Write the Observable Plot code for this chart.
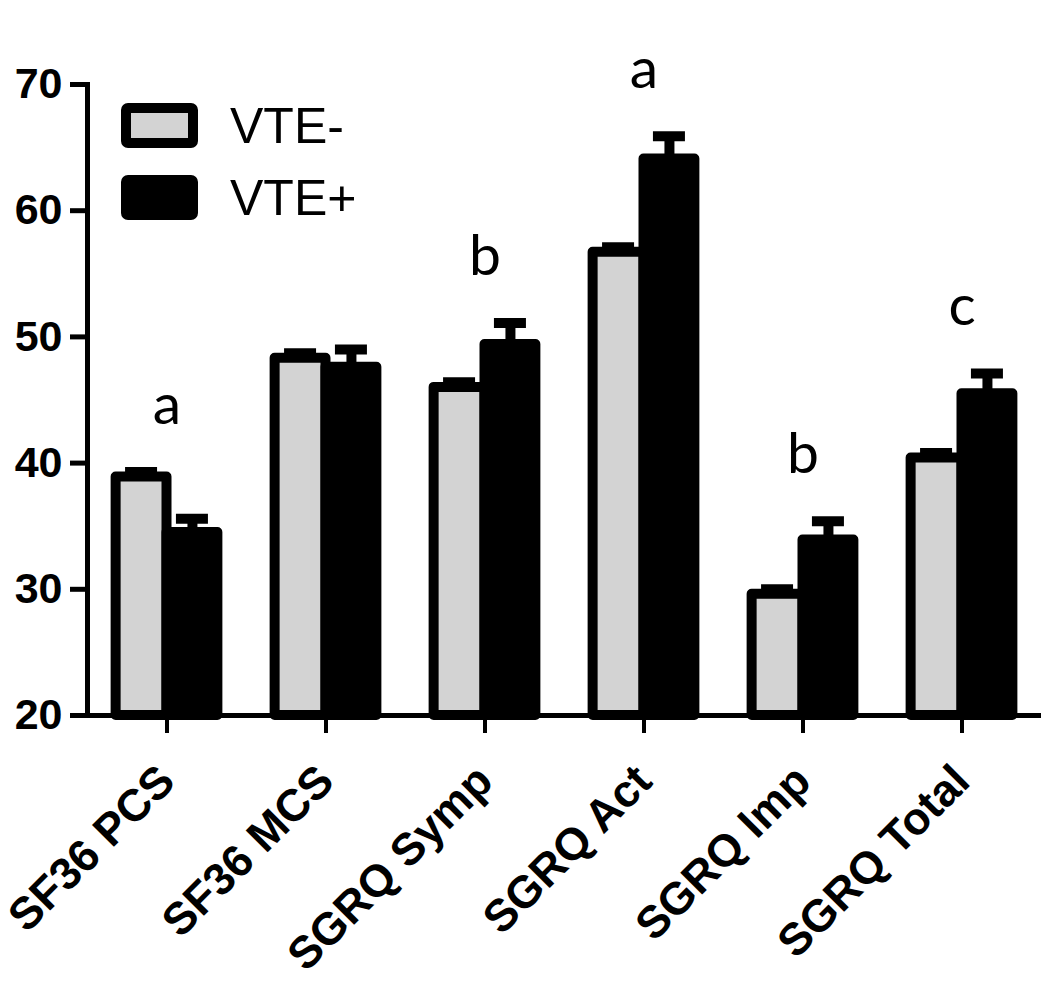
<!DOCTYPE html>
<html>
<head>
<meta charset="utf-8">
<script src="https://cdn.jsdelivr.net/npm/d3@7"></script>
<script src="https://cdn.jsdelivr.net/npm/@observablehq/plot@0.6"></script>
<style>
  html, body { margin: 0; padding: 0; background: #fff; }
  #wrap { position: relative; width: 1050px; height: 995px; }
  .legend { position: absolute; left: 121px; top: 103px; font-family: "Liberation Sans", Arial, sans-serif; font-size: 50px; color: #000; }
  .item { display: flex; align-items: center; height: 45px; margin-bottom: 27px; }
  .box { box-sizing: border-box; width: 77px; height: 45px; border: 10px solid #000; border-radius: 7px; margin-right: 32px; }
</style>
</head>
<body>
<div id="wrap"></div>
<script>
const categories = ["SF36 PCS", "SF36 MCS", "SGRQ Symp", "SGRQ Act", "SGRQ Imp", "SGRQ Total"];
const series = ["VTE-", "VTE+"];
const seriesColors = ["#d3d3d3", "#000000"];
const vteNeg = [38.9, 48.3, 46.0, 56.7, 29.6, 40.4];
const vteNegErr = [0.4, 0.4, 0.4, 0.4, 0.4, 0.4];
const vtePos = [34.5, 47.6, 49.4, 64.1, 33.9, 45.5];
const vtePosErr = [1.1, 1.4, 1.7, 1.8, 1.5, 1.6];
const sigLetters = ["a", "", "b", "a", "b", "c"];
const yTicks = [20, 30, 40, 50, 60, 70];

const W = 1050, H = 995;
const mL = 87, mR = 9, mT = 84, mB = 280;
const bw = (W - mL - mR) / categories.length;   // band width
const barW = bw * 0.32;
const capHalf = 16;

const negRows = categories.map((c, i) => ({cat: c, group: series[0], mean: vteNeg[i], err: vteNegErr[i]}));
const posRows = categories.map((c, i) => ({cat: c, group: series[1], mean: vtePos[i], err: vtePosErr[i]}));
const sigRows = categories.map((c, i) => ({
  cat: c, letter: sigLetters[i],
  top: Math.max(vteNeg[i] + vteNegErr[i], vtePos[i] + vtePosErr[i])
})).filter(d => d.letter);

const barStyle = {stroke: "#000", strokeWidth: 10, strokeLinejoin: "round"};

const chart = Plot.plot({
  width: W, height: H,
  marginLeft: mL, marginRight: mR, marginTop: mT, marginBottom: mB,
  style: {background: "#fff", color: "#000", overflow: "visible"},
  x: {domain: categories, padding: 0, axis: null},
  y: {domain: [20, 70], axis: null},
  color: {domain: series, range: seriesColors},
  marks: [
    // error bars (stems + caps)
    Plot.ruleX(negRows, {x: "cat", y1: "mean", y2: d => d.mean + d.err, dx: -barW / 2, stroke: "#000", strokeWidth: 10}),
    Plot.tickY(negRows, {x: "cat", y: d => d.mean + d.err, insetLeft: bw / 2 - barW / 2 - capHalf, insetRight: bw / 2 + barW / 2 - capHalf, stroke: "#000", strokeWidth: 10}),
    Plot.ruleX(posRows, {x: "cat", y1: "mean", y2: d => d.mean + d.err, dx: barW / 2, stroke: "#000", strokeWidth: 10}),
    Plot.tickY(posRows, {x: "cat", y: d => d.mean + d.err, insetLeft: bw / 2 + barW / 2 - capHalf, insetRight: bw / 2 - barW / 2 - capHalf, stroke: "#000", strokeWidth: 10}),
    // bars
    Plot.barY(negRows, {x: "cat", y1: 20, y2: "mean", fill: "group", insetLeft: bw / 2 - barW, insetRight: bw / 2, ...barStyle}),
    Plot.barY(posRows, {x: "cat", y1: 20, y2: "mean", fill: "group", insetLeft: bw / 2, insetRight: bw / 2 - barW, ...barStyle}),
    // axes
    Plot.axisY({ticks: yTicks, tickSize: 17, tickPadding: 8, strokeWidth: 5, fontSize: 43, fontWeight: "bold",
      fontFamily: "Liberation Sans, Arial, sans-serif", tickFormat: d => d, label: null}),
    Plot.axisX({tickSize: 18, strokeWidth: 4, tickFormat: () => "", label: null}),
    Plot.text(categories, {x: d => d, frameAnchor: "bottom", dy: 58, rotate: -45, textAnchor: "end", lineAnchor: "middle",
      fontSize: 45, fontWeight: "bold", fontFamily: "Liberation Sans, Arial, sans-serif", fill: "#000"}),
    Plot.ruleY([20], {stroke: "#000", strokeWidth: 5}),
    Plot.frame({anchor: "left", stroke: "#000", strokeWidth: 5}),
    // significance letters
    Plot.text(sigRows, {x: "cat", y: "top", text: "letter", lineAnchor: "bottom", dy: -48,
      fontSize: 57, fontFamily: "Lato, Noto Sans, sans-serif", fill: "#000"})
  ]
});

const wrap = document.getElementById("wrap");
wrap.appendChild(chart);

const legend = document.createElement("div");
legend.className = "legend";
series.forEach((s, i) => {
  const item = document.createElement("div");
  item.className = "item";
  const box = document.createElement("div");
  box.className = "box";
  box.style.background = seriesColors[i];
  const label = document.createElement("span");
  label.textContent = s;
  item.appendChild(box);
  item.appendChild(label);
  legend.appendChild(item);
});
wrap.appendChild(legend);
</script>
</body>
</html>
